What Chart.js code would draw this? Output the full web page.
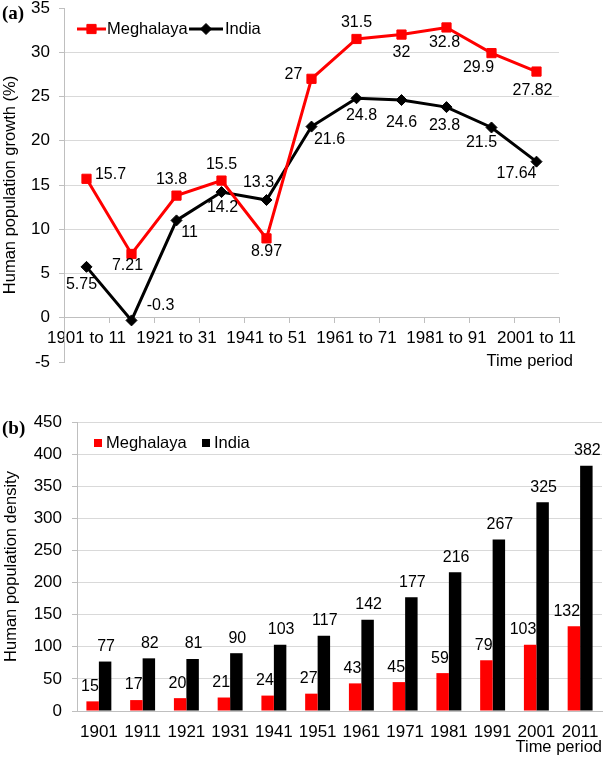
<!DOCTYPE html>
<html>
<head>
<meta charset="utf-8">
<script src="https://cdn.jsdelivr.net/npm/chart.js@4.4.1/dist/chart.umd.min.js"></script>
<style>
  body { margin: 0; background: #fff; width: 604px; height: 759px; position: relative; overflow: hidden; }
  canvas { position: absolute; left: 0; }
  #growthChart { top: 0; }
  #densityChart { top: 380px; }
  .tag { position: absolute; left: 2px; font: bold 19px "Liberation Serif", "Times New Roman", serif; line-height: 1; color: #000; }
</style>
</head>
<body>
<canvas id="growthChart" width="604" height="380"></canvas>
<canvas id="densityChart" width="604" height="379"></canvas>
<div class="tag" style="top:3px">(a)</div>
<div class="tag" style="top:418px">(b)</div>
<script>
// (a) growth per decade, %
const periods = ["1901 to 11", "1911 to 21", "1921 to 31", "1931 to 41", "1941 to 51", "1951 to 61",
                 "1961 to 71", "1971 to 81", "1981 to 91", "1991 to 01", "2001 to 11"];
const meghalayaGrowth = [15.7, 7.21, 13.8, 15.5, 8.97, 27, 31.5, 32, 32.8, 29.9, 27.82];
const indiaGrowth = [5.75, -0.3, 11, 14.2, 13.3, 21.6, 24.8, 24.6, 23.8, 21.5, 17.64];

// (b) density per census year
const years = ["1901", "1911", "1921", "1931", "1941", "1951", "1961", "1971", "1981", "1991", "2001", "2011"];
const meghalayaDensity = [15, 17, 20, 21, 24, 27, 43, 45, 59, 79, 103, 132];
const indiaDensity = [77, 82, 81, 90, 103, 117, 142, 177, 216, 267, 325, 382];

// where each value label sits relative to its point (dx, dy)
const meghalayaLabelPos = [[24, -4], [-4, 12], [-5, -16], [0, -16], [0, 13], [-18, -4],
                           [0, -16], [0, 18], [-2, 15], [-13, 14], [-4, 19]];
const indiaLabelPos = [[-5, 18], [29, -15], [13, 12], [1, 16], [-8, -17], [18, 13],
                       [5, 17], [0, 23], [-2, 18], [-10, 15], [-20, 12]];

const FONT = '"Liberation Sans", Arial, sans-serif';
Chart.defaults.font.family = FONT;
Chart.defaults.font.size = 17;
Chart.defaults.color = '#000';

const RED = '#ff0000';
const BLACK = '#000000';
const AXIS = '#bfbfbf';
const GRID = '#d9d9d9';
const TITLE_FONT = { size: 16.5 };

function noPad(scale) {
  scale.paddingTop = 0; scale.paddingBottom = 0;
  scale.paddingLeft = 0; scale.paddingRight = 0;
}

// value labels next to the line points, legend, x title
const growthLabels = {
  id: 'growthLabels',
  afterDatasetsDraw(chart) {
    const ctx = chart.ctx;
    const offsets = [meghalayaLabelPos, indiaLabelPos];
    ctx.save();
    ctx.font = '16px ' + FONT;
    ctx.fillStyle = '#000';
    ctx.textAlign = 'center';
    ctx.textBaseline = 'middle';
    chart.data.datasets.forEach((ds, di) => {
      chart.getDatasetMeta(di).data.forEach((pt, i) => {
        const [dx, dy] = offsets[di][i];
        ctx.fillText(String(ds.data[i]), pt.x + dx, pt.y + dy);
      });
    });
    ctx.restore();
  },
  afterDraw(chart) {
    const ctx = chart.ctx;
    const L = chart.chartArea.left;
    const y = 29;
    const items = [
      { ds: chart.data.datasets[0], x0: L + 13, x1: L + 42, tx: L + 43 },
      { ds: chart.data.datasets[1], x0: L + 125, x1: L + 159, tx: L + 161 }
    ];
    ctx.save();
    items.forEach(it => {
      ctx.strokeStyle = it.ds.borderColor;
      ctx.fillStyle = it.ds.borderColor;
      ctx.lineWidth = 3;
      ctx.beginPath();
      ctx.moveTo(it.x0, y);
      ctx.lineTo(it.x1, y);
      ctx.stroke();
      ctx.lineWidth = 1;
      Chart.helpers.drawPoint(ctx, {
        pointStyle: it.ds.pointStyle, radius: it.ds.pointRadius, borderWidth: 1, rotation: 0
      }, (it.x0 + it.x1) / 2, y);
      ctx.fillStyle = '#000';
      ctx.font = '16.5px ' + FONT;
      ctx.textAlign = 'left';
      ctx.textBaseline = 'middle';
      ctx.fillText(it.ds.label, it.tx, y);
    });
    // axis title sits right of the plot edge, below the tick labels
    ctx.font = '16.5px ' + FONT;
    ctx.textAlign = 'right';
    ctx.fillText('Time period', chart.chartArea.right + 14, chart.scales.y.getPixelForValue(0) + 44);
    ctx.restore();
  }
};

new Chart(document.getElementById('growthChart'), {
  type: 'line',
  data: {
    labels: periods,
    datasets: [{
      label: 'Meghalaya',
      data: meghalayaGrowth,
      borderColor: RED,
      backgroundColor: RED,
      borderWidth: 3,
      pointStyle: 'rect',
      pointRadius: 6.5,
      pointBorderWidth: 1,
      tension: 0
    }, {
      label: 'India',
      data: indiaGrowth,
      borderColor: BLACK,
      backgroundColor: BLACK,
      borderWidth: 3,
      pointStyle: 'rectRot',
      pointRadius: 5.5,
      pointBorderWidth: 1,
      tension: 0
    }]
  },
  options: {
    responsive: false,
    animation: false,
    events: [],
    layout: { padding: { top: 8, right: 45, bottom: 18, left: 0 } },
    plugins: { legend: { display: false }, tooltip: { enabled: false } },
    scales: {
      x: {
        position: { y: 0 },
        offset: true,
        grid: { drawOnChartArea: false, drawTicks: true, tickLength: 5, offset: true, color: AXIS },
        border: { color: AXIS, width: 1 },
        ticks: {
          autoSkip: false, maxRotation: 0, padding: 5,
          callback: function (v, i) { return i % 2 === 0 ? this.getLabelForValue(v) : ''; }
        },
        afterFit: noPad
      },
      y: {
        min: -5, max: 35,
        ticks: { stepSize: 5, padding: 9 },
        grid: {
          color: c => (c.index === 0 || c.index === 8) ? 'rgba(0,0,0,0)' : GRID,
          tickColor: AXIS, tickLength: 5
        },
        border: { color: AXIS },
        title: { display: true, text: 'Human population growth (%)', font: TITLE_FONT, padding: { top: 1, bottom: 0 } },
        afterFit: s => { noPad(s); s.width = 64; }
      }
    }
  },
  plugins: [growthLabels]
});

// value labels on top of the bars and the square legend
const densityLabels = {
  id: 'densityLabels',
  afterDatasetsDraw(chart) {
    const ctx = chart.ctx;
    ctx.save();
    ctx.font = '16px ' + FONT;
    ctx.fillStyle = '#000';
    ctx.textBaseline = 'middle';
    chart.data.datasets.forEach((ds, di) => {
      chart.getDatasetMeta(di).data.forEach((bar, i) => {
        if (di === 0) {
          ctx.textAlign = 'right';
          ctx.fillText(String(ds.data[i]), bar.x + bar.width / 2, bar.y - 15);
        } else {
          ctx.textAlign = 'center';
          ctx.fillText(String(ds.data[i]), bar.x + 1, bar.y - 15);
        }
      });
    });
    ctx.restore();
  },
  afterDraw(chart) {
    const ctx = chart.ctx;
    const L = chart.chartArea.left;
    const y = 63;
    const items = [
      { ds: chart.data.datasets[0], x: L + 17, tx: L + 29 },
      { ds: chart.data.datasets[1], x: L + 125, tx: L + 137 }
    ];
    ctx.save();
    items.forEach(it => {
      ctx.fillStyle = it.ds.backgroundColor;
      ctx.fillRect(it.x, y - 4, 8, 8);
      ctx.fillStyle = '#000';
      ctx.font = '16.5px ' + FONT;
      ctx.textAlign = 'left';
      ctx.textBaseline = 'middle';
      ctx.fillText(it.ds.label, it.tx, y);
    });
    ctx.restore();
  }
};

new Chart(document.getElementById('densityChart'), {
  type: 'bar',
  data: {
    labels: years,
    datasets: [{
      label: 'Meghalaya',
      data: meghalayaDensity,
      backgroundColor: RED,
      categoryPercentage: 0.57,
      barPercentage: 1
    }, {
      label: 'India',
      data: indiaDensity,
      backgroundColor: BLACK,
      categoryPercentage: 0.57,
      barPercentage: 1
    }]
  },
  options: {
    responsive: false,
    animation: false,
    events: [],
    layout: { padding: { top: 42, right: 2, bottom: 0, left: 0 } },
    plugins: { legend: { display: false }, tooltip: { enabled: false } },
    scales: {
      x: {
        grid: { display: false, drawTicks: false },
        border: { display: true, color: AXIS },
        ticks: { autoSkip: false, maxRotation: 0, padding: 11 },
        title: { display: true, text: 'Time period', align: 'end', font: TITLE_FONT, padding: { top: 0, bottom: 1.5 } },
        afterFit: s => { noPad(s); s.height = 48; }
      },
      y: {
        min: 0, max: 450,
        ticks: { stepSize: 50, padding: 10 },
        grid: { color: GRID, tickColor: AXIS, tickLength: 5 },
        border: { color: AXIS },
        title: { display: true, text: 'Human population density', font: TITLE_FONT, padding: { top: 2, bottom: 0 } },
        afterFit: s => { noPad(s); s.width = 77; }
      }
    }
  },
  plugins: [densityLabels]
});
</script>
</body>
</html>
